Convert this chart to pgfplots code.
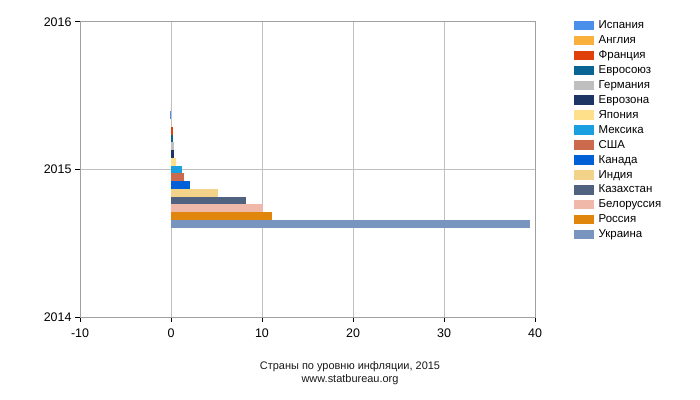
\documentclass[border=0pt]{standalone}
\usepackage{pgfplots}
\pgfplotsset{compat=1.18}
\usepackage{fontspec}
\setmainfont{Liberation Sans}
\definecolor{cES}{HTML}{4A8FEA}
\definecolor{cGB}{HTML}{F9B13C}
\definecolor{cFR}{HTML}{E0400A}
\definecolor{cEU}{HTML}{0B6594}
\definecolor{cDE}{HTML}{BFBFBF}
\definecolor{cEZ}{HTML}{1D3564}
\definecolor{cJP}{HTML}{FFE08A}
\definecolor{cMX}{HTML}{1A9FE0}
\definecolor{cUS}{HTML}{CC6A4E}
\definecolor{cCA}{HTML}{0060D8}
\definecolor{cIN}{HTML}{F3D28A}
\definecolor{cKZ}{HTML}{50627F}
\definecolor{cBY}{HTML}{F0B8A8}
\definecolor{cRU}{HTML}{E0860C}
\definecolor{cUA}{HTML}{7895C0}
\definecolor{gridgray}{HTML}{C0C0C0}
\definecolor{axisgray}{HTML}{A0A0A0}
\begin{document}
\begin{tikzpicture}
\useasboundingbox (0,0) rectangle (700bp,400bp);
\begin{axis}[
  at={(80bp,83bp)}, anchor=south west,
  scale only axis, width=455bp, height=295bp,
  xmin=-10, xmax=40, ymin=2014, ymax=2016,
  xtick={-10,0,10,20,30,40}, ytick={2014,2015,2016},
  xbar=0pt, bar width=7.75bp,
  grid=major, grid style={color=gridgray, line width=1bp},
  axis line style={color=axisgray, line width=1bp},
  tick style={black, line width=1bp},
  tick align=outside, major tick length=5bp,
  tick pos=left,
  /pgf/number format/assume math mode=true,
  /pgf/number format/1000 sep={},
  ticklabel style={font=\fontsize{12.5}{14}\selectfont},
  xticklabel style={yshift=-3bp},
  reverse legend,
  legend cell align=left,
  legend image code/.code={\fill[#1] (0bp,-4.75bp) rectangle (20bp,4.75bp);},
  legend style={at={(1.0857,1.0139)}, anchor=north west, draw=none, fill=none,
    font=\fontsize{11.5}{13}\selectfont, row sep=0pt, inner sep=0pt,
    nodes={inner sep=0pt, minimum height=14.93bp},
    /tikz/every odd column/.append style={column sep=4.5bp}},
]
\addplot[fill=cUA, draw=none] coordinates {(39.45,2015)};
\addplot[fill=cRU, draw=none] coordinates {(11.15,2015)};
\addplot[fill=cBY, draw=none] coordinates {(10.07,2015)};
\addplot[fill=cKZ, draw=none] coordinates {(8.2,2015)};
\addplot[fill=cIN, draw=none] coordinates {(5.13,2015)};
\addplot[fill=cCA, draw=none] coordinates {(2.05,2015)};
\addplot[fill=cUS, draw=none] coordinates {(1.4,2015)};
\addplot[fill=cMX, draw=none] coordinates {(1.17,2015)};
\addplot[fill=cJP, draw=none] coordinates {(0.6,2015)};
\addplot[fill=cEZ, draw=none] coordinates {(0.3,2015)};
\addplot[fill=cDE, draw=none] coordinates {(0.3,2015)};
\addplot[fill=cEU, draw=none] coordinates {(0.2,2015)};
\addplot[fill=cFR, draw=none] coordinates {(0.2,2015)};
\addplot[fill=cGB, draw=none] coordinates {(0.0,2015)};
\addplot[fill=cES, draw=none] coordinates {(-0.1,2015)};
\legend{Украина,Россия,Белоруссия,Казахстан,Индия,Канада,США,Мексика,Япония,Еврозона,Германия,Евросоюз,Франция,Англия,Испания}
\end{axis}
\node[font=\fontsize{11}{13}\selectfont, text=black!90] at (350bp,33bp) {Страны по уровню инфляции, 2015};
\node[font=\fontsize{11}{13}\selectfont, text=black!90] at (350bp,20bp) {www.statbureau.org};
\end{tikzpicture}
\end{document}
